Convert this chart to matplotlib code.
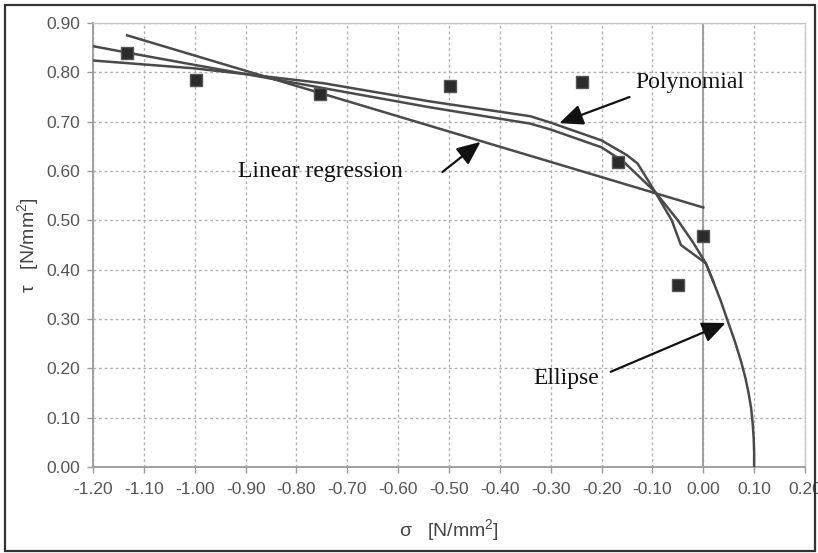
import matplotlib
matplotlib.use("Agg")
import matplotlib.pyplot as plt
from matplotlib.patches import Rectangle

# ---- data ----
sigma_pts = [-1.133, -0.997, -0.753, -0.499, -0.239, -0.167, -0.050, 0.000]
tau_pts = [0.840, 0.785, 0.757, 0.773, 0.781, 0.619, 0.368, 0.468]

lin_sigma = [-1.133, 0.000]
lin_tau = [0.875, 0.526]

poly_sigma = [-1.20, -1.00, -0.897, -0.747, -0.537, -0.34, -0.30, -0.20, -0.15,
              -0.129, -0.095, -0.062, -0.044, 0.005, 0.020]
poly_tau = [0.824, 0.808, 0.796, 0.778, 0.741, 0.711, 0.698, 0.662, 0.632,
            0.615, 0.558, 0.500, 0.450, 0.413, 0.375]

ell_sigma = [-1.20, -1.133, -1.00, -0.897, -0.747, -0.537, -0.34, -0.30, -0.20,
             -0.157, -0.095, -0.050, -0.020, 0.005, 0.020, 0.035, 0.050, 0.062,
             0.074, 0.083, 0.089, 0.094, 0.097, 0.099, 0.100, 0.100]
ell_tau = [0.853, 0.840, 0.815, 0.796, 0.768, 0.729, 0.696, 0.684, 0.648,
           0.619, 0.558, 0.500, 0.455, 0.413, 0.375, 0.335, 0.290, 0.255,
           0.215, 0.180, 0.150, 0.120, 0.090, 0.060, 0.030, 0.000]

x_ticks = [-1.2, -1.1, -1.0, -0.9, -0.8, -0.7, -0.6, -0.5, -0.4, -0.3, -0.2, -0.1, 0.0, 0.1, 0.2]
y_ticks = [0.0, 0.1, 0.2, 0.3, 0.4, 0.5, 0.6, 0.7, 0.8, 0.9]

plt.rcParams['mathtext.fontset'] = 'custom'
plt.rcParams['mathtext.rm'] = 'Liberation Sans'
plt.rcParams['mathtext.it'] = 'Liberation Sans:italic'
plt.rcParams['mathtext.bf'] = 'Liberation Sans:bold'
plt.rcParams['mathtext.default'] = 'regular'

W, H = 818, 553
fig = plt.figure(figsize=(W / 100, H / 100), dpi=100)
ax = fig.add_axes([93 / W, 1 - 467 / H, (805 - 93) / W, (467 - 23) / H])

ax.set_xlim(-1.2, 0.2)
ax.set_ylim(0.0, 0.9)
ax.set_xticks(x_ticks)
ax.set_yticks(y_ticks)
ax.set_xticklabels([f"{v:.2f}" for v in x_ticks])
ax.set_yticklabels([f"{v:.2f}" for v in y_ticks])

ax.grid(True, color='#b0b0b0', linestyle=(0, (2, 2)), linewidth=1.0)
ax.set_axisbelow(True)
for s in ['top', 'right']:
    ax.spines[s].set_color('#c8c8c8')
    ax.spines[s].set_linewidth(1.0)
for s in ['left', 'bottom']:
    ax.spines[s].set_color('#999999')
    ax.spines[s].set_linewidth(1.3)
ax.axvline(0.0, color='#999999', linewidth=1.3, zorder=1)

ax.tick_params(axis='both', direction='out', length=4, width=1, color='#999999',
               labelcolor='#555555', labelsize=12.5)
ax.tick_params(axis='x', pad=7)
ax.tick_params(axis='y', pad=5)
for lab in ax.get_xticklabels() + ax.get_yticklabels():
    lab.set_fontfamily('Liberation Sans')

line_kw = dict(color='#4a4a4a', linewidth=1.8, zorder=3, solid_joinstyle='round')
ax.plot(lin_sigma, lin_tau, **line_kw)
ax.plot(poly_sigma, poly_tau, **line_kw)
ax.plot(ell_sigma, ell_tau, **line_kw)
ax.plot(sigma_pts, tau_pts, linestyle='none', marker='s', markersize=8,
        markerfacecolor='#2b2b2b', markeredgecolor='#555555', markeredgewidth=1, zorder=4)

ax.set_xlabel(r'$\sigma$   [N/mm$^2$]', fontsize=14, color='#444444',
              fontfamily='Liberation Sans', labelpad=14)
ax.set_ylabel(r'$\tau$   [N/mm$^2$]', fontsize=14, color='#444444',
              fontfamily='Liberation Sans', labelpad=4)

txt_kw = dict(fontsize=17, fontfamily='Liberation Serif', color='#111111',
              va='center', ha='left', zorder=6)
arr_kw = dict(arrowstyle='-|>,head_length=0.8,head_width=0.35', color='#111111',
              lw=1.6, mutation_scale=18, shrinkA=0, shrinkB=0)

ax.text(-0.133, 0.779, 'Polynomial', **txt_kw)
ax.annotate('', xy=(-0.283, 0.697), xytext=(-0.145, 0.750), arrowprops=arr_kw, zorder=6)

ax.text(-0.915, 0.598, 'Linear regression', **txt_kw)
ax.annotate('', xy=(-0.438, 0.659), xytext=(-0.513, 0.598), arrowprops=arr_kw, zorder=6)

ax.text(-0.334, 0.180, 'Ellipse', **txt_kw)
ax.annotate('', xy=(0.044, 0.292), xytext=(-0.182, 0.193), arrowprops=arr_kw, zorder=6)

fig.patches.append(Rectangle((5 / W, 2 / H), (815 - 5) / W, (548 - 2) / H,
                             transform=fig.transFigure, fill=False,
                             edgecolor='#333333', linewidth=1.6))

fig.savefig('out.png', dpi=100)
